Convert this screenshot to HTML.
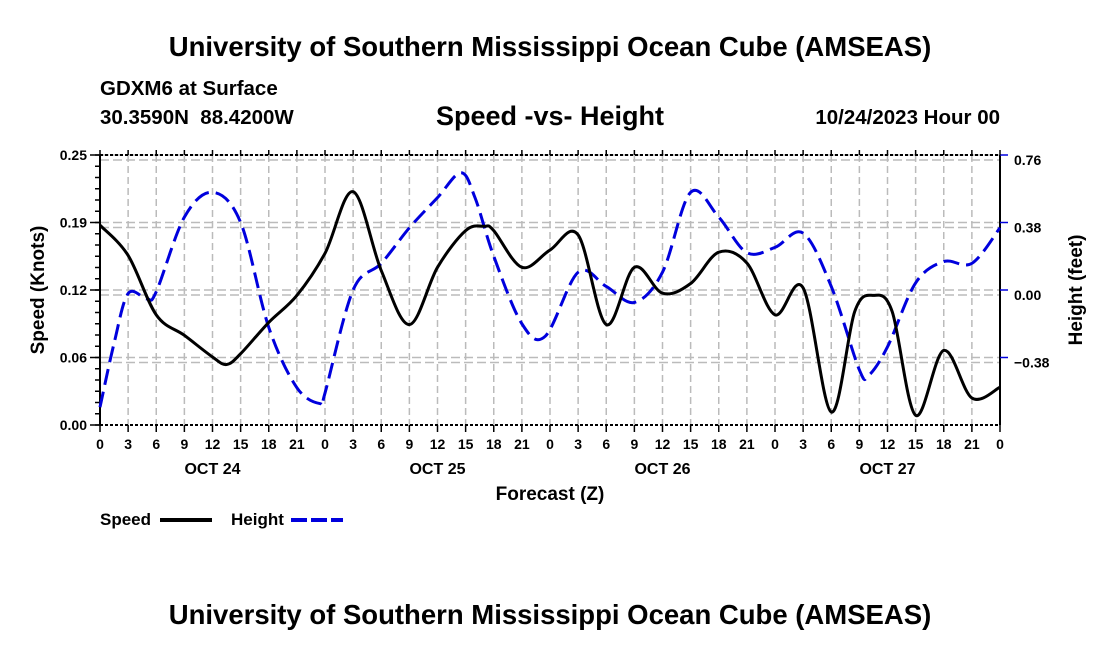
<!DOCTYPE html>
<html><head><meta charset="utf-8"><style>
body{margin:0;background:#fff;width:1100px;height:650px;overflow:hidden;font-family:"Liberation Sans",sans-serif}
svg text{font-family:"Liberation Sans",sans-serif;font-weight:bold}
</style></head><body>
<svg id="chart" width="1100" height="650" xmlns="http://www.w3.org/2000/svg">
<text x="550" y="56" font-size="27.5" text-anchor="middle">University of Southern Mississippi Ocean Cube (AMSEAS)</text>
<text x="100" y="95" font-size="20.5">GDXM6 at Surface</text>
<text x="100" y="124" font-size="20.5" xml:space="preserve">30.3590N  88.4200W</text>
<text x="550" y="125" font-size="27" text-anchor="middle">Speed -vs- Height</text>
<text x="1000" y="124" font-size="20.5" text-anchor="end">10/24/2023 Hour 00</text>
<text transform="translate(44,290) rotate(-90)" font-size="19" text-anchor="middle">Speed (Knots)</text>
<text transform="translate(1082,290) rotate(-90)" font-size="19" text-anchor="middle">Height (feet)</text>
<text x="550" y="500" font-size="19" text-anchor="middle">Forecast (Z)</text>
<g>
<text x="100" y="525" font-size="17">Speed</text>
<line x1="160" y1="520" x2="212" y2="520" stroke="#000" stroke-width="4"/>
<text x="231" y="525" font-size="17">Height</text>
<line x1="291" y1="520" x2="343" y2="520" stroke="#0000dd" stroke-width="4" stroke-dasharray="16,4"/>
</g>
<text x="550" y="624" font-size="27.5" text-anchor="middle">University of Southern Mississippi Ocean Cube (AMSEAS)</text>
<g id="grid"></g><g id="axes"></g><g id="series"></g>
</svg>
<script>
const hours = [0,1.5,3,5,6,9,12,15,18,21,23.5,24,27,30,33,36,38.5,40,42,45,47.5,51,54,57,60,63,66,69,72,75,78,81,82,84,87,90,93,96];
const heightVals = [-0.66,-0.3,-0.02,-0.05,-0.01,0.41,0.55,0.38,-0.21,-0.55,-0.64,-0.58,0.0,0.15,0.35,0.52,0.66,0.52,0.19,-0.19,-0.26,0.10,0.02,-0.07,0.10,0.55,0.41,0.21,0.24,0.32,0.02,-0.45,-0.48,-0.32,0.04,0.16,0.15,0.35];
const speedHours = [0,3,6,9,12,13.5,15,18,21,24,27,30,33,36,39,41,42,45,48,51,54,57,60,63,66,69,72,75,78,80.5,82.5,84.5,87,90,93,96];
const speedVals = [0.185,0.157,0.102,0.083,0.063,0.056,0.066,0.095,0.12,0.159,0.216,0.143,0.093,0.146,0.18,0.184,0.18,0.146,0.162,0.176,0.093,0.146,0.122,0.131,0.160,0.150,0.102,0.127,0.012,0.105,0.12,0.105,0.009,0.069,0.025,0.035];
const leftTicks = [0,0.0625,0.125,0.1875,0.25];
const leftTickLabels = ["0.00","0.06","0.12","0.19","0.25"];
const rightTicks = [-0.38,0,0.38,0.76];
const rightTickLabels = ["\u22120.38","0.00","0.38","0.76"];
const dayLabels = ["OCT 24","OCT 25","OCT 26","OCT 27"];
const X0=100,X1=1000,Y0=425,Y1=155;
const xs=h=>X0+(h/96)*(X1-X0);
const yl=v=>Y0-(v/0.25)*(Y0-Y1);
const yr=v=>Y0-((v+0.76)/1.52)*(Y0-Y1);
const NS="http://www.w3.org/2000/svg";
function mk(tag,attrs,parent,txt){const e=document.createElementNS(NS,tag);for(const k in attrs)e.setAttribute(k,attrs[k]);if(txt!==undefined)e.textContent=txt;parent.appendChild(e);return e;}
const grid=document.getElementById('grid'),axes=document.getElementById('axes'),ser=document.getElementById('series');
for(let h=3;h<96;h+=3){const l=mk('line',{x1:xs(h),x2:xs(h),y1:Y1,y2:Y0,stroke:'#bbb','stroke-width':1.5,'stroke-dasharray':'7,4'},grid);

}
leftTicks.slice(1).forEach(v=>{[0,5].forEach(o=>{const l=mk('line',{x1:X0,x2:X1,y1:yl(v)+o,y2:yl(v)+o,stroke:'#bbb','stroke-width':1.5,'stroke-dasharray':'9,4'},grid);

});});
mk('line',{x1:X0,x2:X0,y1:Y1,y2:Y0,stroke:'#000','stroke-width':2},axes);
mk('line',{x1:X1,x2:X1,y1:Y1,y2:Y0,stroke:'#000','stroke-width':2},axes);
mk('line',{x1:X0,x2:X1,y1:Y0,y2:Y0,stroke:'#000','stroke-width':2,'stroke-dasharray':'3,2'},axes);
mk('line',{x1:X0,x2:X1,y1:Y1,y2:Y1,stroke:'#000','stroke-width':2,'stroke-dasharray':'3,2'},axes);
for(let i=0;i<=24;i++){const y=Y0-i*(Y0-Y1)/24;mk('line',{x1:X0-5,x2:X0,y1:y,y2:y,stroke:'#000','stroke-width':1.5},axes);}
leftTicks.forEach((v,i)=>{mk('line',{x1:X0-10,x2:X0,y1:yl(v),y2:yl(v),stroke:'#000','stroke-width':1.5},axes);
const t=mk('text',{x:87,y:yl(v)+5,'font-size':14,'text-anchor':'end'},axes,leftTickLabels[i]);

});
rightTicks.forEach((v,i)=>{mk('line',{x1:X1,x2:X1+8,y1:yr(v),y2:yr(v),stroke:'#0000dd','stroke-width':1.5},axes);
const t=mk('text',{x:1014,y:yr(v)+10,'font-size':14},axes,rightTickLabels[i]);

});
for(let h=0;h<=96;h+=3){mk('line',{x1:xs(h),x2:xs(h),y1:Y0,y2:Y0+7,stroke:'#000','stroke-width':1.5},axes);mk('line',{x1:xs(h),x2:xs(h),y1:Y1-5,y2:Y1,stroke:'#000','stroke-width':1.5},axes);
const t=mk('text',{x:xs(h),y:449,'font-size':14,'text-anchor':'middle'},axes,String(h%24));

}
dayLabels.forEach((d,i)=>{const t=mk('text',{x:xs(12+24*i),y:474,'font-size':16,'text-anchor':'middle'},axes,d);

});
function smooth(pts){let d=`M${pts[0][0]},${pts[0][1]}`;for(let i=0;i<pts.length-1;i++){const p0=pts[i-1]||pts[i],p1=pts[i],p2=pts[i+1],p3=pts[i+2]||p2;
d+=` C${p1[0]+(p2[0]-p0[0])/6},${p1[1]+(p2[1]-p0[1])/6} ${p2[0]-(p3[0]-p1[0])/6},${p2[1]-(p3[1]-p1[1])/6} ${p2[0]},${p2[1]}`;}return d;}
const hp=mk('path',{d:smooth(hours.map((h,i)=>[xs(h),yr(heightVals[i])])),fill:'none',stroke:'#0000dd','stroke-width':3,'stroke-dasharray':'16,7'},ser);


const sp=mk('path',{d:smooth(speedHours.map((h,i)=>[xs(h),yl(speedVals[i])])),fill:'none',stroke:'#000','stroke-width':3},ser);


</script>
</body></html>
